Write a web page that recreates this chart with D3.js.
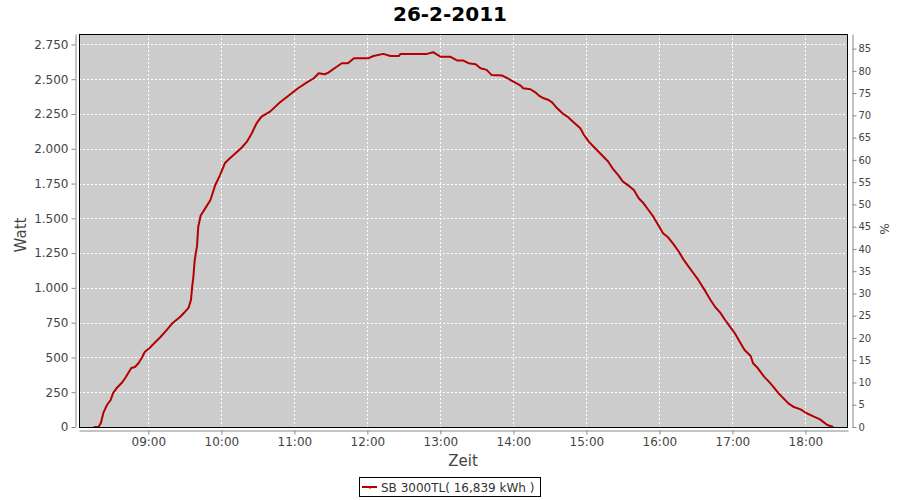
<!DOCTYPE html>
<html><head><meta charset="utf-8">
<script src="https://cdn.jsdelivr.net/npm/d3@7"></script>
<style>body{margin:0;background:#fff;}svg{display:block;font-family:"DejaVu Sans",sans-serif;}</style>
</head><body><svg id="c" width="900" height="500"></svg>
<script>
const title = "26-2-2011";
const seriesName = "SB 3000TL( 16,839 kWh )";
const times = ["08:15","08:19","08:21","08:23","08:26","08:29","08:31","08:34","08:38","08:41","08:44","08:46","08:49","08:52","08:55","08:57","09:01","09:05","09:10","09:15","09:20","09:26","09:30","09:33","09:35","09:36","09:37","09:38","09:39","09:40","09:41","09:43","09:47","09:51","09:55","09:59","10:03","10:07","10:13","10:17","10:21","10:25","10:29","10:33","10:40","10:48","10:57","11:03","11:10","11:16","11:20","11:25","11:28","11:33","11:39","11:44","11:49","12:01","12:05","12:13","12:19","12:26","12:27","12:49","12:54","13:00","13:08","13:14","13:19","13:23","13:29","13:33","13:38","13:42","13:51","13:55","14:00","14:06","14:08","14:14","14:18","14:21","14:25","14:29","14:32","14:36","14:41","14:45","14:49","14:55","14:58","15:02","15:06","15:10","15:14","15:18","15:22","15:26","15:30","15:35","15:39","15:43","15:47","15:51","15:55","15:59","16:03","16:07","16:12","16:16","16:20","16:24","16:28","16:32","16:38","16:42","16:46","16:50","16:54","16:58","17:02","17:06","17:10","17:15","17:17","17:21","17:26","17:30","17:34","17:38","17:42","17:46","17:50","17:56","18:01","18:07","18:12","18:18","18:23"];
const watts = [0,0,29,101,158,194,244,280,316,352,395,424,431,460,503,539,568,604,647,697,748,791,827,856,913,1007,1080,1190,1250,1300,1440,1520,1575,1632,1740,1812,1898,1932,1979,2011,2051,2112,2184,2231,2267,2332,2394,2435,2476,2507,2543,2536,2547,2579,2615,2615,2651,2651,2667,2682,2667,2667,2682,2682,2694,2662,2662,2634,2634,2615,2608,2579,2567,2531,2526,2507,2483,2454,2435,2428,2406,2382,2363,2351,2332,2291,2250,2227,2195,2148,2099,2051,2015,1979,1943,1907,1853,1812,1764,1733,1704,1644,1608,1560,1512,1452,1393,1364,1309,1260,1201,1153,1105,1057,973,913,861,822,769,721,674,613,554,510,458,422,362,326,285,242,206,170,146,127,99,74,55,14,0];
const wattTicks = [0,250,500,750,1000,1250,1500,1750,2000,2250,2500,2750];
const pctTicks = [0,5,10,15,20,25,30,35,40,45,50,55,60,65,70,75,80,85];
const timeTicks = ["09:00","10:00","11:00","12:00","13:00","14:00","15:00","16:00","17:00","18:00"];
const maxWatt = 2825, ratedWatt = 3200;
const xStart = "08:03", xEnd = "18:35";

const toDate = s => { const [h,m] = s.split(":").map(Number); return new Date(2011,1,26,h,m); };
const data = times.map((t,i)=>({t:toDate(t), w:watts[i]}));

const svg = d3.select("#c");
const L=79, R=848, T=34, B=427;
const x = d3.scaleTime().domain([toDate(xStart), toDate(xEnd)]).range([L,R]);
const y = d3.scaleLinear().domain([0,maxWatt]).range([B,T]);
const yp = d3.scaleLinear().domain([0,maxWatt/ratedWatt*100]).range([B,T]);

svg.append("text").attr("x",450).attr("y",21).attr("text-anchor","middle")
  .attr("font-size",20).attr("font-weight","bold").attr("fill","#000").text(title);

svg.append("rect").attr("x",L).attr("y",T).attr("width",R-L).attr("height",B-T).attr("fill","#cccccc");

// grid
const g = svg.append("g").attr("stroke","#fff").attr("stroke-dasharray","2,2").attr("stroke-width",1);
wattTicks.forEach(v=>{ const yy=Math.round(y(v))+0.5; if(v>0) g.append("line").attr("x1",L).attr("x2",R).attr("y1",yy).attr("y2",yy); });
timeTicks.forEach(s=>{ const xx=Math.round(x(toDate(s)))+0.5; g.append("line").attr("x1",xx).attr("x2",xx).attr("y1",T).attr("y2",B); });

// line
const line = d3.line().x(d=>x(d.t)).y(d=>y(d.w));
svg.append("path").datum(data).attr("d",line).attr("fill","none").attr("stroke","#b40000").attr("stroke-width",2).attr("stroke-linejoin","round");

svg.append("rect").attr("x",L+0.5).attr("y",T+0.5).attr("width",R-L-1).attr("height",B-T).attr("fill","none").attr("stroke","#000").attr("stroke-width",1);

// axes
const fmt = v => d3.format(",")(v).replace(/,/g,".");
const styleAxis = sel => { sel.select(".domain").attr("stroke","#888");
  sel.selectAll(".tick line").attr("stroke","#888");
  sel.selectAll(".tick text").attr("fill","#444").attr("font-size",12).attr("font-family","DejaVu Sans"); };

const ay = svg.append("g").attr("transform","translate(75.5,0)")
  .call(d3.axisLeft(y).tickValues(wattTicks).tickFormat(fmt).tickSize(4).tickSizeOuter(0).tickPadding(3));
styleAxis(ay);
const ayp = svg.append("g").attr("transform","translate(852.5,0)")
  .call(d3.axisRight(yp).tickValues(pctTicks).tickSize(4).tickSizeOuter(0).tickPadding(2));
styleAxis(ayp);
ayp.selectAll(".tick text").attr("font-size",10);
const ax = svg.append("g").attr("transform","translate(0,430.5)")
  .call(d3.axisBottom(x).tickValues(timeTicks.map(toDate)).tickFormat(d3.timeFormat("%H:%M")).tickSize(4).tickSizeOuter(0).tickPadding(3));
styleAxis(ax);

svg.append("text").attr("transform","translate(26,235) rotate(-90)").attr("text-anchor","middle")
  .attr("font-size",15).attr("fill","#444").text("Watt");
svg.append("text").attr("transform","translate(880,229) rotate(90)").attr("text-anchor","middle")
  .attr("font-size",12).attr("fill","#444").text("%");
svg.append("text").attr("x",463).attr("y",466).attr("text-anchor","middle")
  .attr("font-size",15).attr("fill","#444").text("Zeit");

// legend
const lg = svg.append("g");
lg.append("rect").attr("x",359.5).attr("y",477.5).attr("width",181).attr("height",19).attr("fill","#fff").attr("stroke","#000");
lg.append("line").attr("x1",362).attr("x2",377).attr("y1",487).attr("y2",487).attr("stroke","#b40000").attr("stroke-width",2);
lg.append("line").attr("x1",370).attr("x2",370).attr("y1",487).attr("y2",489).attr("stroke","#b40000").attr("stroke-width",1);
lg.append("text").attr("x",381).attr("y",492).attr("font-size",12).attr("fill","#333").text(seriesName);
</script></body></html>
